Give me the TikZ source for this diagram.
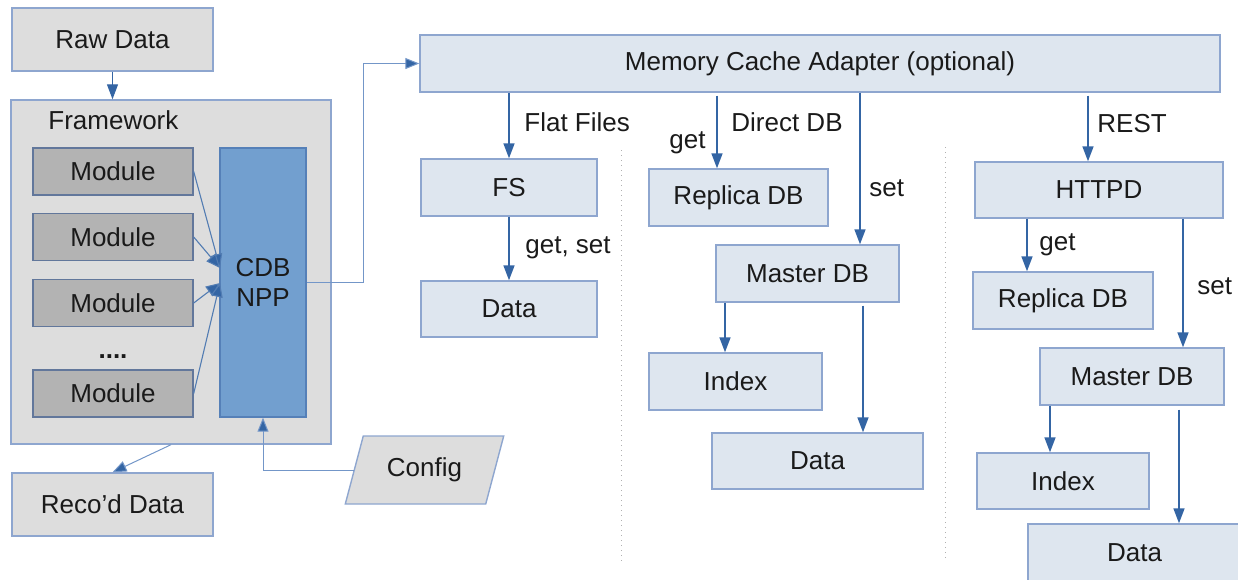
\documentclass[tikz,border=0pt]{standalone}
\usepackage{fontspec}
\setmainfont{Liberation Sans}
\usetikzlibrary{arrows.meta,shapes.geometric}

\definecolor{txt}{HTML}{1A1A1A}
\definecolor{edgeblue}{HTML}{8EA6CF}
\definecolor{arrblue}{HTML}{3465A4}
\definecolor{thinblue}{HTML}{7396C8}
\definecolor{lgray}{HTML}{DDDDDD}
\definecolor{mgray}{HTML}{B3B3B3}
\definecolor{modedge}{HTML}{62779B}
\definecolor{cdbfill}{HTML}{729FCF}
\definecolor{cdbedge}{HTML}{5580B8}
\definecolor{lblue}{HTML}{DEE6EF}
\definecolor{sepgray}{HTML}{B0B0B0}

\tikzset{
  box/.style={draw=edgeblue, line width=0.7pt, inner sep=0pt, text=txt,
    font=\fontsize{13}{15}\selectfont},
  graybox/.style={box, fill=lgray},
  modbox/.style={box, fill=mgray, draw=modedge, minimum width=80pt, minimum height=23.5pt},
  cdbbox/.style={box, fill=cdbfill, draw=cdbedge, align=center},
  bluebox/.style={box, fill=lblue},
  lbl/.style={inner sep=0pt, anchor=west, text=txt, font=\fontsize{13}{15}\selectfont},
  arr/.style={draw=arrblue, line width=0.8pt, -{Triangle[length=7.5pt,width=5.5pt]}},
  thinarr/.style={draw=thinblue, line width=0.5pt, -{Triangle[length=7pt,width=5.5pt,fill=arrblue]}},
  modarr/.style={draw=arrblue!85, line width=0.55pt, -{Triangle[length=7pt,width=6pt,fill=arrblue]}},
  sep/.style={draw=sepgray, dotted, line width=0.5pt}
}

\begin{document}
\begin{tikzpicture}[x=0.5pt, y=-0.5pt]
\useasboundingbox (0,0) rectangle (1238,579);

% ---------- left side: framework ----------
\node[graybox, minimum width=100.5pt, minimum height=31.5pt] (raw) at (112.5,39.5) {Raw Data};
\node[graybox, minimum width=160pt, minimum height=172pt] (fw) at (171,272) {};
\node[lbl] (fwlbl) at (48,120) {Framework};

\node[modbox] (m1) at (113,171.5) {Module};
\node[modbox] (m2) at (113,237) {Module};
\node[modbox] (m3) at (113,303) {Module};
\node[modbox] (m4) at (113,393.5) {Module};
\node[lbl, anchor=base, font=\fontsize{13}{15}\selectfont\bfseries] (dots) at (113,358) {....};

\node[cdbbox, minimum width=43pt, minimum height=134.5pt] (cdb) at (263,282.5) {CDB\\NPP};

\node[graybox, minimum width=100.5pt, minimum height=31.5pt] (reco) at (112.5,504.5) {Reco'd Data};

\node[box, fill=lgray, trapezium, trapezium stretches=true,
      trapezium left angle=65.5, trapezium right angle=114.5,
      minimum width=79.5pt, minimum height=34pt] (config) at (424.5,470) {Config};

% module outputs into CDB
\coordinate (inA) at (220,268);
\coordinate (inB) at (220,283);
\draw[modarr] (m1.east) -- (inA);
\draw[modarr] (m2.east) -- (inA);
\draw[modarr] (m3.east) -- (inB);
\draw[modarr] (m4.east) -- (inB);

\draw[arr, line width=0.6pt] (raw.south) -- (raw.south |- fw.north);
\draw[thinarr] (fw.south) -- (reco.north);
\draw[thinarr] (config.west) -| (cdb.south);

% ---------- right side: storage back ends ----------
\node[bluebox, minimum width=400pt, minimum height=28.5pt] (mca) at (820,63.5) {Memory Cache Adapter (optional)};
\draw[thinarr] (cdb.east) -- ++(57,0) |- (mca.west);

% flat files
\node[bluebox, minimum width=88pt, minimum height=28.5pt] (fs) at (509,187.5) {FS};
\node[bluebox, minimum width=88pt, minimum height=28pt] (data1) at (509,309) {Data};

% direct DB
\node[bluebox, minimum width=89.5pt, minimum height=28.5pt] (rep1) at (738.5,197.5) {Replica DB};
\node[bluebox, minimum width=91.5pt, minimum height=28.5pt] (mas1) at (807.5,273.5) {Master DB};
\node[bluebox, minimum width=86.5pt, minimum height=28.5pt] (idx1) at (735.5,381.5) {Index};
\node[bluebox, minimum width=105.5pt, minimum height=28pt] (data2) at (817.5,461) {Data};

% REST
\node[bluebox, minimum width=124pt, minimum height=28pt] (httpd) at (1099,190) {HTTPD};
\node[bluebox, minimum width=90pt, minimum height=28.5pt] (rep2) at (1063,300.5) {Replica DB};
\node[bluebox, minimum width=92pt, minimum height=28.5pt] (mas2) at (1132,376.5) {Master DB};
\node[bluebox, minimum width=86pt, minimum height=28pt] (idx2) at (1063,481) {Index};
\node[bluebox, minimum width=106.5pt, minimum height=29pt] (data3) at (1134.5,553) {Data};

% column separators
\draw[sep] (621,150) -- (621,562);
\draw[sep] (945,147) -- (945,560);

% connectors
\draw[arr] (mca.south -| fs.north) -- (fs.north);
\draw[arr] (fs.south) -- (data1.north);
\draw[arr] (mca.south -| 717,0) ++(0,3) -- (rep1.north -| 717,0);
\draw[arr] (mca.south -| 860,0) -- (mas1.north -| 860,0);
\draw[arr] (mas1.south -| 725,0) -- (idx1.north -| 725,0);
\draw[arr] (mas1.south -| 863,0) ++(0,3) -- (data2.north -| 863,0);
\draw[arr] (mca.south -| 1088,0) ++(0,3) -- (httpd.north -| 1088,0);
\draw[arr] (httpd.south -| 1027,0) -- (rep2.north -| 1027,0);
\draw[arr] (httpd.south -| 1183,0) -- (mas2.north -| 1183,0);
\draw[arr] (mas2.south -| 1050,0) -- (idx2.north -| 1050,0);
\draw[arr] (mas2.south -| 1179,0) ++(0,4) -- (data3.north -| 1179,0);

% connector labels
\node[lbl] (tFlat) at (524,122) {Flat Files};
\node[lbl] (tGS) at (525,248) {get, set};
\node[lbl] (tDirect) at (731,122) {Direct DB};
\node[lbl] (tGet1) at (669,143) {get};
\node[lbl] (tSet1) at (869,188) {set};
\node[lbl] (tRest) at (1097,124) {REST};
\node[lbl] (tGet2) at (1039,245) {get};
\node[lbl] (tSet2) at (1197,286) {set};
\end{tikzpicture}
\end{document}
